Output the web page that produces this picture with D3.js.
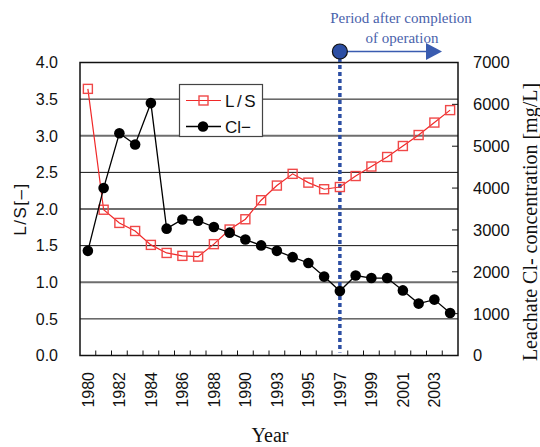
<!DOCTYPE html>
<html>
<head>
<meta charset="utf-8">
<script src="https://cdn.jsdelivr.net/npm/d3@7"></script>
<style>
  html, body { margin: 0; padding: 0; background: #fff; }
  svg { display: block; }
</style>
</head>
<body>
<svg id="chart" width="540" height="447"></svg>
<script>
// Landfill leachate record: liquid-to-solid ratio and chloride concentration by year
const years = ["1980","1981","1982","1983","1984","1985","1986","1987","1988","1989","1990",
               "1992","1993","1994","1995","1996","1997","1998","1999","2000","2001","2002","2003","2004"];
const lsRatio = [3.64, 1.99, 1.81, 1.70, 1.51, 1.40, 1.36, 1.35, 1.52, 1.72, 1.86,
                 2.12, 2.32, 2.48, 2.36, 2.27, 2.30, 2.45, 2.58, 2.71, 2.86, 3.01, 3.18, 3.35];
const chloride = [2500, 4000, 5310, 5040, 6030, 3030, 3250, 3220, 3070, 2935, 2770,
                  2630, 2500, 2350, 2210, 1885, 1540, 1910, 1850, 1850, 1555, 1240, 1335, 1015];
const leftTicks = [0, 0.5, 1, 1.5, 2, 2.5, 3, 3.5, 4];
const rightTicks = [0, 1000, 2000, 3000, 4000, 5000, 6000, 7000];
const closureYear = "1997";

const svg = d3.select("#chart");
const plot = { left: 80, right: 458, top: 62.5, bottom: 355.5 };

const x = d3.scaleBand().domain(years).range([plot.left, plot.right]).padding(0);
const yL = d3.scaleLinear().domain([0, 4]).range([plot.bottom, plot.top]);
const yR = d3.scaleLinear().domain([0, 7000]).range([plot.bottom, plot.top]);
const cx = d => x(d) + x.bandwidth() / 2;

const sans = "'Liberation Sans', Arial, sans-serif";
const serif = "'Liberation Serif', 'Times New Roman', serif";

// horizontal gridlines on the L/S scale
svg.append("g").selectAll("line").data(leftTicks.slice(1, -1)).join("line")
  .attr("x1", plot.left).attr("x2", plot.right)
  .attr("y1", d => yL(d)).attr("y2", d => yL(d))
  .attr("stroke", d => (d % 1 === 0) ? "#6e6e6e" : "#111")
  .attr("stroke-width", d => (d % 1 === 0) ? 1.8 : 1);

// left axis labels
svg.append("g").selectAll("text").data(leftTicks).join("text")
  .attr("x", 58).attr("y", d => yL(d)).attr("dy", "0.36em")
  .attr("text-anchor", "end").attr("font-family", sans).attr("font-size", 16)
  .attr("fill", "#111").text(d => d.toFixed(1));

// right axis: inward ticks and labels
svg.append("g").selectAll("line").data(rightTicks).join("line")
  .attr("x1", plot.right - 6).attr("x2", plot.right)
  .attr("y1", d => yR(d)).attr("y2", d => yR(d))
  .attr("stroke", "#111").attr("stroke-width", 1);
svg.append("g").selectAll("text").data(rightTicks).join("text")
  .attr("x", 473).attr("y", d => yR(d)).attr("dy", "0.36em")
  .attr("text-anchor", "start").attr("font-family", sans).attr("font-size", 16.5)
  .attr("fill", "#111").text(d => d);

// category ticks along the bottom, pointing inward
const bounds = years.map(d => x(d)).concat([plot.right]);
svg.append("g").selectAll("line").data(bounds.slice(1, -1)).join("line")
  .attr("x1", d => d).attr("x2", d => d)
  .attr("y1", plot.bottom).attr("y2", plot.bottom - 5)
  .attr("stroke", "#111").attr("stroke-width", 1);

// year labels, every second category, rotated
svg.append("g").selectAll("text").data(years.filter((d, i) => i % 2 === 0)).join("text")
  .attr("transform", d => `translate(${cx(d)},372) rotate(-90)`)
  .attr("dy", "0.36em").attr("text-anchor", "end")
  .attr("font-family", sans).attr("font-size", 16).attr("fill", "#111")
  .text(d => d);

// plot frame
svg.append("rect")
  .attr("x", plot.left).attr("y", plot.top)
  .attr("width", plot.right - plot.left).attr("height", plot.bottom - plot.top)
  .attr("fill", "none").attr("stroke", "#111").attr("stroke-width", 1.5);

// axis titles
svg.append("text")
  .attr("transform", `translate(20,${(plot.top + plot.bottom) / 2}) rotate(-90)`)
  .attr("dy", "0.36em").attr("text-anchor", "middle")
  .attr("font-family", sans).attr("font-size", 17).attr("letter-spacing", 1.5)
  .attr("fill", "#111").text("L/S[–]");
svg.append("text")
  .attr("transform", `translate(530,222) rotate(-90)`)
  .attr("dy", "0.36em").attr("text-anchor", "middle")
  .attr("font-family", serif).attr("font-size", 20)
  .attr("fill", "#111").text("Leachate Cl- concentration [mg/L]");
svg.append("text")
  .attr("x", 270).attr("y", 442).attr("text-anchor", "middle")
  .attr("font-family", serif).attr("font-size", 20)
  .attr("fill", "#111").text("Year");

// closure marker: dotted vertical line, dot and arrow
const blue = "#2c4ea3";
const xc = cx(closureYear);
svg.append("line")
  .attr("x1", xc).attr("x2", xc).attr("y1", 58).attr("y2", plot.bottom - 3)
  .attr("stroke", blue).attr("stroke-width", 3.5).attr("stroke-dasharray", "4,3");
svg.append("line")
  .attr("x1", xc).attr("x2", 428).attr("y1", 51.5).attr("y2", 51.5)
  .attr("stroke", "#3a5cb0").attr("stroke-width", 1.6);
svg.append("path")
  .attr("d", `M426,43 L442,51.5 L426,60 Z`).attr("fill", "#3a5cb0");
svg.append("circle")
  .attr("cx", xc).attr("cy", 51.5).attr("r", 7.5)
  .attr("fill", blue).attr("stroke", "#111").attr("stroke-width", 1.2);
svg.append("text")
  .attr("x", 401).attr("y", 23).attr("text-anchor", "middle")
  .attr("font-family", serif).attr("font-size", 15).attr("fill", "#4a62ab")
  .text("Period after completion");
svg.append("text")
  .attr("x", 402).attr("y", 43).attr("text-anchor", "middle")
  .attr("font-family", serif).attr("font-size", 15).attr("fill", "#4a62ab")
  .text("of operation");

// L/S series
const red = "#f02828";
svg.append("path").datum(lsRatio)
  .attr("d", d3.line().x((d, i) => cx(years[i])).y(d => yL(d)))
  .attr("fill", "none").attr("stroke", red).attr("stroke-width", 1.2);
svg.append("g").selectAll("rect").data(lsRatio).join("rect")
  .attr("x", (d, i) => cx(years[i]) - 4.5).attr("y", d => yL(d) - 4.5)
  .attr("width", 9).attr("height", 9)
  .attr("fill", "none").attr("stroke", "#f04848").attr("stroke-width", 1.4);

// chloride series
svg.append("path").datum(chloride)
  .attr("d", d3.line().x((d, i) => cx(years[i])).y(d => yR(d)))
  .attr("fill", "none").attr("stroke", "#000").attr("stroke-width", 1.3);
svg.append("g").selectAll("circle").data(chloride).join("circle")
  .attr("cx", (d, i) => cx(years[i])).attr("cy", d => yR(d)).attr("r", 5.3)
  .attr("fill", "#000");

// legend
const lg = svg.append("g");
lg.append("rect").attr("x", 179.5).attr("y", 84.5).attr("width", 83).attr("height", 52)
  .attr("fill", "#fff").attr("stroke", "#444").attr("stroke-width", 1.2);
lg.append("line").attr("x1", 186).attr("x2", 221).attr("y1", 100.5).attr("y2", 100.5)
  .attr("stroke", red).attr("stroke-width", 1.2);
lg.append("rect").attr("x", 199).attr("y", 96).attr("width", 9).attr("height", 9)
  .attr("fill", "none").attr("stroke", "#f04848").attr("stroke-width", 1.4);
lg.append("text").attr("x", 225).attr("y", 106.5)
  .attr("font-family", sans).attr("font-size", 17).attr("letter-spacing", 2.5)
  .attr("fill", "#111").text("L/S");
lg.append("line").attr("x1", 186).attr("x2", 221).attr("y1", 126.5).attr("y2", 126.5)
  .attr("stroke", "#000").attr("stroke-width", 1.3);
lg.append("circle").attr("cx", 203).attr("cy", 126.5).attr("r", 5.3).attr("fill", "#000");
lg.append("text").attr("x", 225).attr("y", 132.5)
  .attr("font-family", sans).attr("font-size", 17)
  .attr("fill", "#111").text("Cl−");
</script>
</body>
</html>
